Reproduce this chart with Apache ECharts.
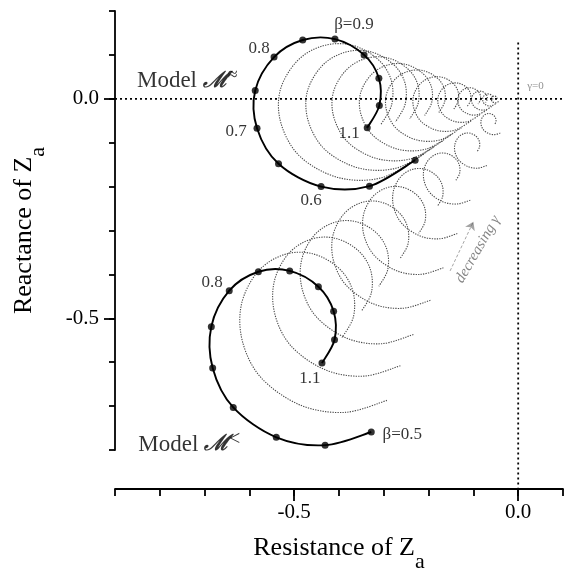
<!DOCTYPE html>
<html>
<head>
<meta charset="utf-8">
<script src="https://cdn.jsdelivr.net/npm/echarts@6/dist/echarts.min.js"></script>
<style>
  html, body { margin: 0; padding: 0; background: #fff; }
  #chart { width: 579px; height: 578px; }
</style>
</head>
<body>
<div id="chart"></div>
<script>
// β sweep shared by both models
const betaValues = [0.5, 0.55, 0.6, 0.65, 0.7, 0.75, 0.8, 0.85, 0.9, 0.95, 1.0, 1.05, 1.1];

// Model M≈ (largest γ): impedance Z_a over β
const upperResistance = [-0.230, -0.332, -0.440, -0.535, -0.583, -0.587, -0.545, -0.481, -0.409, -0.344, -0.311, -0.310, -0.337];
const upperReactance  = [-0.140, -0.199, -0.200, -0.148, -0.067,  0.019,  0.095,  0.134,  0.136,  0.100,  0.047, -0.015, -0.066];
const upperLabels     = ['', '', '0.6', '', '0.7', '', '0.8', '', 'β=0.9', '', '', '', '1.1'];

// Model M< (largest γ)
const lowerResistance = [-0.328, -0.431, -0.540, -0.636, -0.682, -0.685, -0.645, -0.580, -0.510, -0.446, -0.412, -0.410, -0.438];
const lowerReactance  = [-0.759, -0.789, -0.771, -0.703, -0.613, -0.519, -0.437, -0.394, -0.392, -0.428, -0.484, -0.549, -0.602];
const lowerLabels     = ['β=0.5', '', '', '', '', '', '0.8', '', '', '', '', '', '1.1'];

// Smaller γ, model M≈: loops shrink toward a focus next to the origin
const upperFocus     = [-0.035, 0.0];
const upperLoopScale = [0.90, 0.79, 0.685, 0.575, 0.47, 0.36, 0.26, 0.18, 0.125, 0.08, 0.045];

// Smaller γ, model M<: β=0.5 end of each loop and its size relative to the largest loop
const lowerLoopStartRes   = [-0.293, -0.263, -0.234, -0.196, -0.167, -0.136, -0.107, -0.070, -0.040];
const lowerLoopStartReact = [-0.687, -0.608, -0.537, -0.459, -0.385, -0.307, -0.231, -0.152, -0.078];
const lowerLoopScale      = [0.91, 0.79, 0.70, 0.61, 0.50, 0.40, 0.29, 0.20, 0.12];

// Axes
const xRange = [-0.9, 0.1];
const yRange = [-0.8, 0.2];
const tickStep = 0.1;
const xMajorTicks = [-0.5, 0.0];
const yMajorTicks = [-0.5, 0.0];

// Dotted zero lines (reactance = 0 and resistance = 0)
const zeroReactLine = [[-0.9, 0], [0.136, 0]];
const zeroResLine   = [[0, 0.128], [0, -0.886]];

// Annotations
const gammaZeroText = { text: 'γ=0', at: [0.020, 0.029] };
const decreasingText = { text: 'decreasing γ', at: [-0.090, -0.343] };
const decreasingArrow = [[-0.152, -0.392], [-0.100, -0.280]];
const modelUpperAt = [-0.851, 0.041];
const modelLowerAt = [-0.848, -0.788];

const SERIF = '"Liberation Serif", "Times New Roman", serif';
const GRAY = '#4a4a4a';

function loopFrom(res, react, from, to, s) {
  return res.map((x, i) => [to[0] + s * (x - from[0]), to[1] + s * (react[i] - from[1])]);
}

// Smooth curve through the data points (Catmull-Rom in screen space)
function curveRenderer(style) {
  return function (params, api) {
    if (params.dataIndexInside !== 0) return null;
    const n = params.dataInsideLength;
    const pts = [];
    for (let j = 0; j < n; j++) pts.push(api.coord([api.value(0, j), api.value(1, j)]));
    let d = 'M' + pts[0][0].toFixed(2) + ' ' + pts[0][1].toFixed(2);
    for (let j = 0; j < n - 1; j++) {
      const p0 = pts[Math.max(j - 1, 0)], p1 = pts[j], p2 = pts[j + 1], p3 = pts[Math.min(j + 2, n - 1)];
      const c1 = [p1[0] + (p2[0] - p0[0]) / 6, p1[1] + (p2[1] - p0[1]) / 6];
      const c2 = [p2[0] - (p3[0] - p1[0]) / 6, p2[1] - (p3[1] - p1[1]) / 6];
      d += ' C' + c1.map(v => v.toFixed(2)).join(' ') + ' ' + c2.map(v => v.toFixed(2)).join(' ') +
           ' ' + p2.map(v => v.toFixed(2)).join(' ');
    }
    return { type: 'path', shape: { pathData: d }, style: Object.assign({ fill: 'none' }, style), silent: true };
  };
}

function curveSeries(points, style, z) {
  return {
    type: 'custom', coordinateSystem: 'cartesian2d', clip: false, silent: true, z: z,
    encode: { x: 0, y: 1 },
    renderItem: curveRenderer(style),
    data: points
  };
}

const grayStyle = { stroke: GRAY, lineWidth: 1.1, lineDash: [1.3, 1.2] };
const graySeries = [];
upperLoopScale.forEach(s => {
  graySeries.push(curveSeries(loopFrom(upperResistance, upperReactance, upperFocus, upperFocus, s), grayStyle, 1));
});
lowerLoopScale.forEach((s, i) => {
  graySeries.push(curveSeries(loopFrom(lowerResistance, lowerReactance,
    [lowerResistance[0], lowerReactance[0]],
    [lowerLoopStartRes[i], lowerLoopStartReact[i]], s), grayStyle, 1));
});

const labelOffsets = {
  upper: { '0.6': [-10, 14], '0.7': [-21, 3], '0.8': [-15, -9], 'β=0.9': [19, -15], '1.1': [-18, 6] },
  lower: { 'β=0.5': [31, 3], '0.8': [-17, -8], '1.1': [-12, 15] }
};

function dotSeries(res, react, labels, offsets) {
  return {
    type: 'scatter', symbol: 'circle', symbolSize: 7, z: 6, silent: true,
    itemStyle: { color: '#000' },
    data: res.map((x, i) => {
      const item = { value: [x, react[i]], name: 'β=' + betaValues[i] };
      if (labels[i]) {
        item.label = {
          show: true, formatter: labels[i], position: 'inside',
          align: 'center', verticalAlign: 'middle',
          offset: offsets[labels[i]],
          fontFamily: SERIF, fontSize: 17, color: '#000'
        };
      }
      return item;
    })
  };
}

function textPoint(at, label) {
  return {
    type: 'scatter', symbolSize: 1, silent: true, z: 6,
    itemStyle: { color: 'rgba(0,0,0,0)' },
    data: [{ value: at, label: Object.assign({ show: true }, label) }]
  };
}

const modelRich = {
  m: { fontFamily: SERIF, fontSize: 23, color: '#000' },
  c: { fontFamily: '"DejaVu Serif", serif', fontStyle: 'italic', fontWeight: 'bold', fontSize: 22, color: '#000' },
  sup: { fontFamily: SERIF, fontSize: 18, color: '#000', verticalAlign: 'top', lineHeight: 30, padding: [0, 0, 10, 0] },
  lt: { fontFamily: SERIF, fontSize: 20, color: '#000', verticalAlign: 'top', lineHeight: 30, padding: [0, 0, 8, 0] }
};

const axisBlack = { color: '#000', width: 1.8 };
const nameRich = {
  t: { fontFamily: SERIF, fontSize: 26, color: '#000', verticalAlign: 'top', lineHeight: 38 },
  s: { fontFamily: SERIF, fontSize: 22, color: '#000', verticalAlign: 'bottom', lineHeight: 38, padding: [10, 0, 0, 0] }
};

const option = {
  animation: false,
  backgroundColor: '#fff',
  grid: { left: 115, top: 11, width: 448, height: 447, containLabel: false },
  xAxis: [
    {
      type: 'value', min: xRange[0], max: xRange[1], interval: tickStep,
      position: 'bottom', offset: 39,
      axisLine: { onZero: false, lineStyle: axisBlack },
      axisTick: { length: 7, lineStyle: axisBlack },
      axisLabel: {
        customValues: xMajorTicks, formatter: v => v.toFixed(1),
        fontFamily: SERIF, fontSize: 21, color: '#000', margin: 13
      },
      splitLine: { show: false },
      name: '{t|Resistance of Z}{s|a}',
      nameLocation: 'middle', nameGap: 46,
      nameTextStyle: { rich: nameRich }
    },
    {
      type: 'value', min: xRange[0], max: xRange[1], interval: tickStep,
      position: 'bottom', offset: 39,
      axisLine: { show: false, onZero: false },
      axisTick: { customValues: xMajorTicks, length: 12, lineStyle: axisBlack },
      axisLabel: { show: false },
      splitLine: { show: false }
    }
  ],
  yAxis: [
    {
      type: 'value', min: yRange[0], max: yRange[1], interval: tickStep,
      position: 'left',
      axisLine: { onZero: false, lineStyle: axisBlack },
      axisTick: { length: 6, lineStyle: axisBlack },
      axisLabel: {
        customValues: yMajorTicks, formatter: v => v.toFixed(1),
        fontFamily: SERIF, fontSize: 21, color: '#000', margin: 16
      },
      splitLine: { show: false },
      name: '{t|Reactance of Z}{s|a}',
      nameLocation: 'middle', nameGap: 66, nameRotate: 90,
      nameTextStyle: { rich: nameRich }
    },
    {
      type: 'value', min: yRange[0], max: yRange[1], interval: tickStep,
      position: 'left',
      axisLine: { show: false, onZero: false },
      axisTick: { customValues: yMajorTicks, length: 11, lineStyle: axisBlack },
      axisLabel: { show: false },
      splitLine: { show: false }
    }
  ],
  series: [
    {
      type: 'line', symbol: 'none', clip: false, silent: true, z: 2,
      lineStyle: { color: '#000', width: 1.8, type: [2, 3] },
      data: zeroReactLine
    },
    {
      type: 'line', symbol: 'none', clip: false, silent: true, z: 2,
      lineStyle: { color: '#000', width: 1.8, type: [2, 3] },
      data: zeroResLine
    },
    ...graySeries,
    curveSeries(upperResistance.map((x, i) => [x, upperReactance[i]]), { stroke: '#000', lineWidth: 1.9 }, 5),
    curveSeries(lowerResistance.map((x, i) => [x, lowerReactance[i]]), { stroke: '#000', lineWidth: 1.9 }, 5),
    dotSeries(upperResistance, upperReactance, upperLabels, labelOffsets.upper),
    dotSeries(lowerResistance, lowerReactance, lowerLabels, labelOffsets.lower),
    {
      type: 'lines', coordinateSystem: 'cartesian2d', silent: true, z: 3,
      symbol: ['none', 'arrow'], symbolSize: 8,
      lineStyle: { color: GRAY, width: 1, type: [3, 2] },
      data: [{ coords: decreasingArrow }]
    },
    textPoint(gammaZeroText.at, {
      formatter: gammaZeroText.text, position: 'inside', align: 'left', verticalAlign: 'middle',
      fontFamily: SERIF, fontSize: 11, color: '#777'
    }),
    textPoint(decreasingText.at, {
      formatter: decreasingText.text, position: 'inside', align: 'center', verticalAlign: 'middle',
      rotate: 60, fontFamily: SERIF, fontStyle: 'italic', fontSize: 15, color: '#666'
    }),
    textPoint(modelUpperAt, {
      formatter: '{m|Model }{c|ℳ}{sup|≈}', position: 'inside', align: 'left', verticalAlign: 'middle',
      rich: modelRich
    }),
    textPoint(modelLowerAt, {
      formatter: '{m|Model }{c|ℳ}{lt|<}', position: 'inside', align: 'left', verticalAlign: 'middle',
      rich: modelRich
    })
  ]
};

const chart = echarts.init(document.getElementById('chart'), null, { renderer: 'canvas' });
chart.setOption(option);
</script>
</body>
</html>
